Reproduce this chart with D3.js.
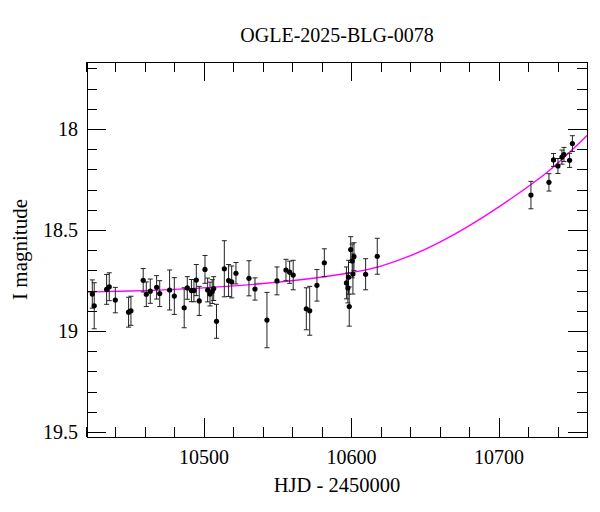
<!DOCTYPE html>
<html>
<head>
<meta charset="utf-8">
<script src="https://cdn.jsdelivr.net/npm/d3@7"></script>
<style>
  html, body { margin: 0; padding: 0; background: #fff; }
  svg { display: block; }
  text { font-family: "Liberation Serif", "Times New Roman", serif; fill: #000; }
</style>
</head>
<body>
<svg id="chart" width="600" height="512"></svg>
<script>
// ---- data ----
const title = "OGLE-2025-BLG-0078";
const xLabel = "HJD - 2450000";
const yLabel = "I magnitude";

const hjd = [10424.3, 10425.6, 10434.0, 10435.8, 10439.9, 10448.9, 10450.5, 10458.8, 10460.9, 10463.6,
             10467.9, 10470.0, 10476.7, 10479.9, 10486.6, 10488.7, 10491.5, 10493.2, 10494.8, 10496.8,
             10500.7, 10502.5, 10504.1, 10505.6, 10506.6, 10508.5, 10513.8, 10516.7, 10518.8, 10521.7,
             10530.5, 10534.6, 10542.7, 10549.5, 10555.6, 10558.1, 10560.5, 10569.4, 10571.7, 10576.6,
             10581.6, 10596.6, 10597.6, 10598.0, 10598.5, 10599.5, 10600.5, 10601.7, 10601.0, 10609.6,
             10617.5, 10721.7, 10733.9, 10737.0, 10740.0, 10742.7, 10744.1, 10747.9, 10749.8];
const mag = [18.817, 18.875, 18.794, 18.781, 18.847, 18.907, 18.900, 18.749, 18.818, 18.803,
             18.784, 18.815, 18.797, 18.827, 18.885, 18.787, 18.800, 18.800, 18.748, 18.851,
             18.695, 18.797, 18.817, 18.805, 18.790, 18.952, 18.692, 18.750, 18.757, 18.714,
             18.739, 18.792, 18.946, 18.752, 18.698, 18.709, 18.723, 18.890, 18.900, 18.774,
             18.662, 18.762, 18.787, 18.734, 18.879, 18.597, 18.653, 18.632, 18.718, 18.719,
             18.630, 18.327, 18.264, 18.153, 18.183, 18.139, 18.126, 18.155, 18.072];
const magErr = [0.070, 0.114, 0.074, 0.069, 0.063, 0.074, 0.072, 0.058, 0.061, 0.060,
                0.058, 0.064, 0.099, 0.091, 0.099, 0.056, 0.055, 0.055, 0.077, 0.072,
                0.069, 0.059, 0.059, 0.059, 0.059, 0.084, 0.139, 0.079, 0.079, 0.053,
                0.087, 0.055, 0.137, 0.069, 0.053, 0.055, 0.073, 0.104, 0.121, 0.078,
                0.069, 0.079, 0.074, 0.084, 0.097, 0.064, 0.084, 0.069, 0.099, 0.077,
                0.089, 0.068, 0.043, 0.032, 0.037, 0.035, 0.035, 0.035, 0.039];

// model curve
const modelHjd = [10420, 10450, 10480, 10510, 10540, 10570, 10600, 10620, 10640, 10660,
                  10680, 10700, 10720, 10735, 10745, 10760];
const modelMag = [18.807, 18.803, 18.795, 18.782, 18.766, 18.744, 18.713, 18.682, 18.630, 18.562,
                  18.480, 18.387, 18.285, 18.203, 18.135, 18.030];

const xMajor = [10500, 10600, 10700];
const xMinor = [10420, 10440, 10460, 10480, 10520, 10540, 10560, 10580, 10620, 10640, 10660, 10680, 10720, 10740];
const yMajor = [18, 18.5, 19, 19.5];
const yMinor = [17.7, 17.8, 17.9, 18.1, 18.2, 18.3, 18.4, 18.6, 18.7, 18.8, 18.9, 19.1, 19.2, 19.3, 19.4];

// ---- layout ----
const L = 87, R = 587, T = 62, B = 437;
const x = d3.scaleLinear().domain([10420.7, 10759.7]).range([L, R]);
const y = d3.scaleLinear().domain([17.668, 19.525]).range([T, B]);

const svg = d3.select("#chart");

// curve
svg.append("clipPath").attr("id", "clip")
  .append("rect").attr("x", L).attr("y", T).attr("width", R - L).attr("height", B - T);

const modelPts = modelHjd.map((h, i) => [h, modelMag[i]]);
svg.append("path")
  .attr("clip-path", "url(#clip)")
  .attr("d", d3.line().x(d => x(d[0])).y(d => y(d[1])).curve(d3.curveBasis)(modelPts))
  .attr("fill", "none").attr("stroke", "#ff00ff").attr("stroke-width", 1.4);

// data points with error bars
const pts = hjd.map((h, i) => ({ h, m: mag[i], e: magErr[i] }));
const g = svg.append("g");
const cap = 2.5;
g.selectAll(".eb").data(pts).enter().append("line")
  .attr("x1", d => x(d.h)).attr("x2", d => x(d.h))
  .attr("y1", d => y(d.m - d.e)).attr("y2", d => y(d.m + d.e))
  .attr("stroke", "#222").attr("stroke-width", 1);
g.selectAll(".ct").data(pts).enter().append("line")
  .attr("x1", d => x(d.h) - cap).attr("x2", d => x(d.h) + cap)
  .attr("y1", d => y(d.m - d.e)).attr("y2", d => y(d.m - d.e))
  .attr("stroke", "#222").attr("stroke-width", 1);
g.selectAll(".cb").data(pts).enter().append("line")
  .attr("x1", d => x(d.h) - cap).attr("x2", d => x(d.h) + cap)
  .attr("y1", d => y(d.m + d.e)).attr("y2", d => y(d.m + d.e))
  .attr("stroke", "#222").attr("stroke-width", 1);
g.selectAll("circle").data(pts).enter().append("circle")
  .attr("cx", d => x(d.h)).attr("cy", d => y(d.m)).attr("r", 2.6).attr("fill", "#000");

// ticks on all four sides (inward)
const majLen = 19, minLen = 10;
function xTicks(vals, len) {
  svg.append("g").selectAll("line").data(vals).enter().append("line")
    .attr("x1", d => Math.round(x(d)) + 0.5).attr("x2", d => Math.round(x(d)) + 0.5)
    .attr("y1", B).attr("y2", B - len).attr("stroke", "#000").attr("stroke-width", 1);
  svg.append("g").selectAll("line").data(vals).enter().append("line")
    .attr("x1", d => Math.round(x(d)) + 0.5).attr("x2", d => Math.round(x(d)) + 0.5)
    .attr("y1", T).attr("y2", T + len).attr("stroke", "#000").attr("stroke-width", 1);
}
function yTicks(vals, len) {
  svg.append("g").selectAll("line").data(vals).enter().append("line")
    .attr("y1", d => Math.round(y(d)) + 0.5).attr("y2", d => Math.round(y(d)) + 0.5)
    .attr("x1", L).attr("x2", L + len).attr("stroke", "#000").attr("stroke-width", 1);
  svg.append("g").selectAll("line").data(vals).enter().append("line")
    .attr("y1", d => Math.round(y(d)) + 0.5).attr("y2", d => Math.round(y(d)) + 0.5)
    .attr("x1", R).attr("x2", R - len).attr("stroke", "#000").attr("stroke-width", 1);
}
xTicks(xMajor, majLen); xTicks(xMinor, minLen);
yTicks(yMajor, majLen); yTicks(yMinor, minLen);

// frame
svg.append("rect").attr("x", L + 0.5).attr("y", T + 0.5).attr("width", R - L).attr("height", B - T)
  .attr("fill", "none").attr("stroke", "#000").attr("stroke-width", 1);

// tick labels
svg.append("g").selectAll("text").data(xMajor).enter().append("text")
  .attr("x", d => x(d)).attr("y", 464).attr("text-anchor", "middle")
  .attr("font-size", 20).text(d => d3.format("d")(d));
svg.append("g").selectAll("text").data(yMajor).enter().append("text")
  .attr("x", 78).attr("y", d => y(d) + 7).attr("text-anchor", "end")
  .attr("font-size", 20).text(d => String(d));

// titles
svg.append("text").attr("x", (L + R) / 2).attr("y", 42).attr("text-anchor", "middle")
  .attr("font-size", 20).text(title);
svg.append("text").attr("x", (L + R) / 2).attr("y", 492).attr("text-anchor", "middle")
  .attr("font-size", 20.5).text(xLabel);
svg.append("text").attr("transform", "translate(27," + ((T + B) / 2) + ") rotate(-90)")
  .attr("text-anchor", "middle").attr("font-size", 21).text(yLabel);
</script>
</body>
</html>
